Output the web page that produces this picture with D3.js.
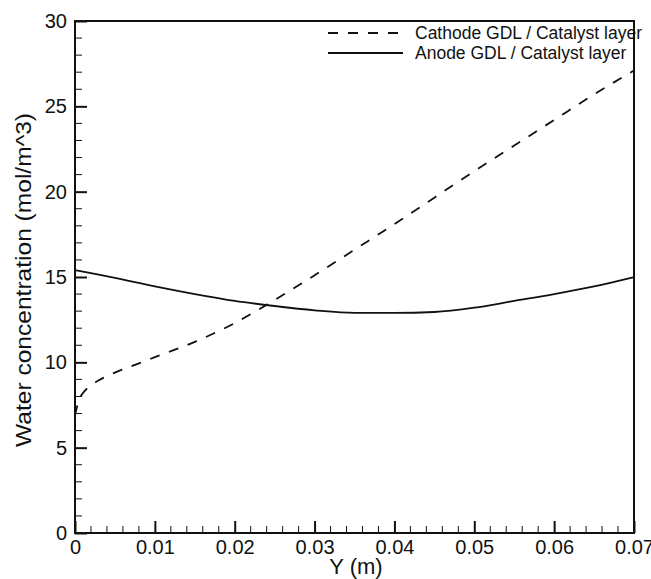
<!DOCTYPE html>
<html>
<head>
<meta charset="utf-8">
<script src="https://cdn.jsdelivr.net/npm/d3@7"></script>
<style>
  html, body { margin: 0; padding: 0; background: #fff; }
  svg { display: block; font-family: "Liberation Sans", Arial, sans-serif; }
</style>
</head>
<body>
<svg id="chart" width="651" height="579"></svg>
<script>
// Position along the layer (m)
const cathodeY = [0, 0.0002, 0.0005, 0.001, 0.002, 0.003, 0.005, 0.0075, 0.01, 0.015, 0.02, 0.025, 0.03, 0.035, 0.04, 0.045, 0.05, 0.055, 0.06, 0.065, 0.07];
// Water concentration at the cathode GDL / catalyst layer interface (mol/m^3)
const cathodeC = [6.9, 7.3, 7.8, 8.2, 8.65, 8.95, 9.4, 9.85, 10.3, 11.2, 12.3, 13.65, 15.1, 16.6, 18.1, 19.65, 21.2, 22.7, 24.2, 25.7, 27.1];

const anodeY = [0, 0.005, 0.01, 0.015, 0.02, 0.025, 0.03, 0.035, 0.04, 0.045, 0.05, 0.055, 0.06, 0.065, 0.07];
// Water concentration at the anode GDL / catalyst layer interface (mol/m^3)
const anodeC = [15.4, 14.95, 14.45, 14.0, 13.6, 13.3, 13.05, 12.9, 12.9, 12.95, 13.2, 13.6, 14.0, 14.45, 15.0];

const xTicks = [0, 0.01, 0.02, 0.03, 0.04, 0.05, 0.06, 0.07];
const yTicks = [0, 5, 10, 15, 20, 25, 30];
const seriesNames = ["Cathode GDL / Catalyst layer", "Anode GDL / Catalyst layer"];

const svg = d3.select("#chart");
const plotLeft = 75, plotRight = 634, plotTop = 21, plotBottom = 533;

const x = d3.scaleLinear().domain([0, 0.07]).range([plotLeft, plotRight]);
const y = d3.scaleLinear().domain([0, 30]).range([plotBottom, plotTop]);

const ink = "#111";
const dash = "10,10";

// Minor ticks (inward)
const xMinor = d3.range(0, 0.0701, 0.002).filter(v => xTicks.every(t => Math.abs(t - v) > 1e-9));
const yMinor = d3.range(0, 30.01, 1).filter(v => v % 5 !== 0);

const g = svg.append("g");

g.selectAll(".xminor").data(xMinor).join("line")
  .attr("x1", d => x(d)).attr("x2", d => x(d))
  .attr("y1", plotBottom).attr("y2", plotBottom - 7)
  .attr("stroke", ink).attr("stroke-width", 1);
g.selectAll(".yminor").data(yMinor).join("line")
  .attr("y1", d => y(d)).attr("y2", d => y(d))
  .attr("x1", plotLeft).attr("x2", plotLeft + 7)
  .attr("stroke", ink).attr("stroke-width", 1);

// Major ticks and labels via d3 axes
const xAxis = d3.axisBottom(x).tickValues(xTicks).tickSize(-12).tickPadding(7)
  .tickFormat(d => d === 0 ? "0" : d3.format(".2f")(d));
const yAxis = d3.axisLeft(y).tickValues(yTicks).tickSize(-12).tickPadding(8)
  .tickFormat(d3.format("d"));

const gx = svg.append("g").attr("transform", `translate(0,${plotBottom})`).call(xAxis);
const gy = svg.append("g").attr("transform", `translate(${plotLeft},0)`).call(yAxis);
[gx, gy].forEach(a => {
  a.select(".domain").remove();
  a.selectAll(".tick line").attr("stroke", ink).attr("stroke-width", 2);
  a.selectAll(".tick text").attr("fill", ink).style("font-size", "20px")
    .style("font-family", "'Liberation Sans', Arial, sans-serif");
});
gx.selectAll(".tick text").attr("dy", "0.68em");
gy.selectAll(".tick text").attr("dy", "0.33em");

// Plot frame
svg.append("rect")
  .attr("x", plotLeft).attr("y", plotTop)
  .attr("width", plotRight - plotLeft).attr("height", plotBottom - plotTop)
  .attr("fill", "none").attr("stroke", ink).attr("stroke-width", 2);

// Curves
const line = d3.line().x(d => x(d[0])).y(d => y(d[1])).curve(d3.curveMonotoneX);
const cathode = cathodeY.map((v, i) => [v, cathodeC[i]]);
const anode = anodeY.map((v, i) => [v, anodeC[i]]);

svg.append("path").datum(cathode).attr("d", line)
  .attr("fill", "none").attr("stroke", ink).attr("stroke-width", 1.8)
  .attr("stroke-dasharray", dash);
svg.append("path").datum(anode).attr("d", line)
  .attr("fill", "none").attr("stroke", ink).attr("stroke-width", 1.8);

// Legend
const legend = svg.append("g");
const legY = [33, 53];
const styles = [dash, null];
seriesNames.forEach((name, i) => {
  legend.append("line")
    .attr("x1", 328).attr("x2", 403)
    .attr("y1", legY[i]).attr("y2", legY[i])
    .attr("stroke", ink).attr("stroke-width", 1.8)
    .attr("stroke-dasharray", styles[i]);
  legend.append("text")
    .attr("x", 415).attr("y", legY[i]).attr("dy", "0.35em")
    .attr("fill", ink).style("font-size", "17.5px")
    .text(name);
});

// Axis titles
svg.append("text")
  .attr("x", 356).attr("y", 574)
  .attr("text-anchor", "middle").attr("fill", ink)
  .style("font-size", "22px").text("Y (m)");
svg.append("text")
  .attr("transform", `translate(31,280) rotate(-90)`)
  .attr("text-anchor", "middle").attr("fill", ink)
  .attr("textLength", 334).attr("lengthAdjust", "spacingAndGlyphs")
  .style("font-size", "22px").text("Water concentration (mol/m^3)");
</script>
</body>
</html>
